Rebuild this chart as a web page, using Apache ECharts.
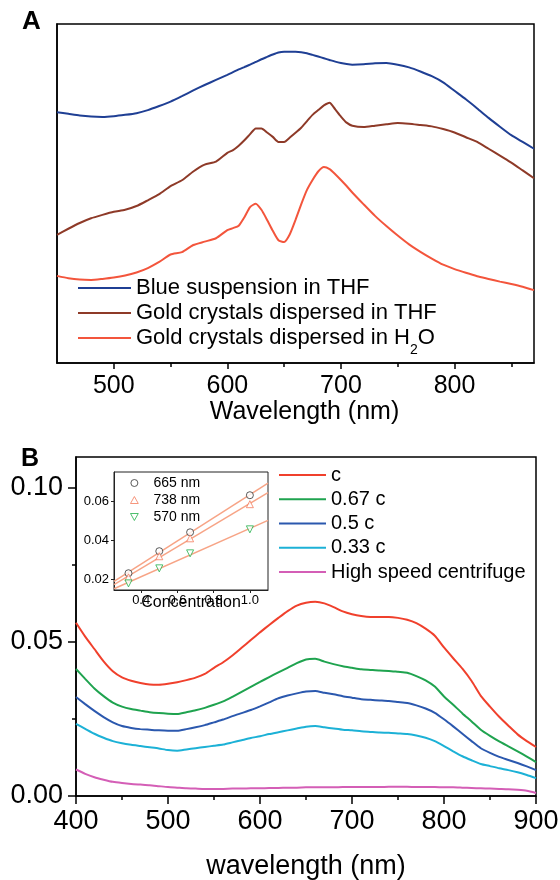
<!DOCTYPE html>
<html><head><meta charset="utf-8">
<script src="https://cdn.jsdelivr.net/npm/echarts@6/dist/echarts.min.js"></script>
<style>html,body{margin:0;padding:0;background:#fff}#c{width:560px;height:880px}</style>
</head><body><div id="c"></div>
<script>
// ---------- Panel A ----------
const wavelengthA = [450,460,470,480,490,500,510,520,530,540,550,560,570,580,590,600,605,610,615,620,625,630,635,640,645,650,655,660,665,670,675,680,685,690,695,700,705,710,720,730,740,750,760,770,780,790,800,810,820,830,840,850,860,870];
const blueSuspensionTHF = [.740,.735,.730,.727,.726,.728,.732,.737,.746,.758,.771,.787,.804,.820,.835,.850,.858,.866,.873,.880,.888,.896,.903,.910,.916,.918,.918,.918,.917,.914,.909,.904,.899,.894,.889,.885,.882,.880,.881,.884,.885,.880,.872,.860,.846,.828,.803,.778,.751,.723,.697,.672,.652,.632];
const goldTHF = [.378,.396,.413,.427,.437,.446,.452,.463,.480,.498,.522,.539,.565,.585,.594,.620,.628,.641,.657,.675,.692,.692,.680,.667,.652,.652,.665,.679,.694,.713,.732,.746,.760,.768,.748,.727,.709,.700,.696,.700,.704,.708,.706,.702,.698,.690,.680,.666,.652,.632,.612,.591,.568,.545];
const goldH2O = [.257,.250,.246,.245,.248,.252,.258,.267,.280,.298,.320,.327,.348,.358,.368,.392,.398,.405,.430,.460,.470,.452,.422,.390,.362,.357,.380,.422,.468,.510,.540,.565,.578,.572,.557,.540,.522,.503,.468,.434,.404,.376,.350,.328,.308,.290,.277,.266,.256,.248,.240,.233,.225,.215];
const namesA = ['Blue suspension in THF','Gold crystals dispersed in THF','Gold crystals dispersed in H2O'];
const ticksAX = [500,600,700,800];
const minorTicksAX = [550,650,750,850];

// ---------- Panel B ----------
const wavelengthB = [400,410,420,430,440,450,460,470,480,490,500,510,520,530,540,550,560,570,580,590,600,610,620,630,640,650,660,670,680,690,700,710,720,730,740,750,760,770,780,790,800,810,820,830,840,850,860,870,880,890,900];
const concC = [.0562,.0517,.0477,.0437,.0405,.0385,.0374,.0367,.0362,.0361,.0364,.0369,.0376,.0384,.0396,.0416,.0434,.0456,.0481,.0506,.0531,.0555,.0578,.0600,.0618,.0627,.0630,.0625,.0613,.0599,.0590,.0584,.0581,.0581,.0581,.0578,.0572,.0561,.0543,.0520,.0482,.0447,.0413,.0373,.0325,.0290,.0257,.0228,.0200,.0178,.0159];
const conc067 = [.0412,.0380,.0349,.0324,.0303,.0290,.0282,.0277,.0272,.0269,.0267,.0266,.0272,.0278,.0286,.0296,.0307,.0322,.0338,.0354,.0370,.0386,.0401,.0416,.0431,.0443,.0445,.0436,.0428,.0421,.0416,.0411,.0409,.0407,.0406,.0403,.0400,.0389,.0375,.0355,.0323,.0296,.0268,.0242,.0215,.0195,.0177,.0161,.0145,.0128,.0110];
const conc05 = [.0321,.0298,.0276,.0256,.0239,.0227,.0221,.0217,.0215,.0213,.0212,.0212,.0217,.0223,.0230,.0239,.0248,.0259,.0269,.0279,.0291,.0304,.0317,.0326,.0333,.0339,.0341,.0335,.0330,.0324,.0319,.0314,.0312,.0310,.0308,.0305,.0302,.0294,.0284,.0270,.0249,.0226,.0202,.0178,.0155,.0140,.0127,.0117,.0107,.0096,.0084];
const conc033 = [.0234,.0218,.0202,.0189,.0178,.0171,.0166,.0162,.0158,.0154,.0149,.0147,.0151,.0155,.0159,.0163,.0167,.0174,.0181,.0188,.0194,.0201,.0207,.0213,.0219,.0225,.0227,.0223,.0219,.0215,.0213,.0210,.0208,.0206,.0205,.0203,.0201,.0196,.0189,.0178,.0162,.0145,.0129,.0116,.0104,.0097,.0090,.0084,.0077,.0068,.0058];
const highSpeed = [.0086,.0072,.0061,.0053,.0046,.0042,.0039,.0037,.0035,.0032,.0029,.0027,.0025,.0024,.0023,.0023,.0023,.0024,.0024,.0025,.0025,.0026,.0026,.0027,.0027,.0028,.0028,.0028,.0028,.0029,.0029,.0029,.0029,.0029,.0030,.0030,.0030,.0029,.0029,.0029,.0028,.0028,.0027,.0026,.0025,.0024,.0023,.0022,.0020,.0017,.0010];
const namesB = ['c','0.67 c','0.5 c','0.33 c','High speed centrifuge'];
const ticksBX = [400,500,600,700,800,900];
const minorTicksBX = [450,550,650,750,850];
const ticksBY = [0,0.05,0.10];
const minorTicksBY = [0.025,0.075];

// ---------- Inset ----------
const concentration = [0.33,0.5,0.67,1.0];
const abs665 = [0.0231,0.0344,0.0441,0.0631];
const abs738 = [0.0210,0.0318,0.0410,0.0585];
const abs570 = [0.0179,0.0256,0.0333,0.0456];
const namesInset = ['665 nm','738 nm','570 nm'];
const insetTicksX = [0.4,0.6,0.8,1.0];
const insetTicksY = [0.02,0.04,0.06];

const FONT = 'Liberation Sans, Arial, Helvetica, sans-serif';
const BLACK = '#000';
const UP_TRI = 'path://M5,0L10,9L0,9Z';
const DOWN_TRI = 'path://M0,0L10,0L5,9Z';
const pairs = (xs, ys) => xs.map((x, i) => [x, ys[i]]);
function fitLine(xs, ys, x0, x1) {
  const n = xs.length;
  const mx = xs.reduce((a, b) => a + b, 0) / n;
  const my = ys.reduce((a, b) => a + b, 0) / n;
  let sxy = 0, sxx = 0;
  for (let i = 0; i < n; i++) { sxy += (xs[i] - mx) * (ys[i] - my); sxx += (xs[i] - mx) ** 2; }
  const b = sxy / sxx, a = my - b * mx;
  return [[x0, a + b * x0], [x1, a + b * x1]];
}

const colorsA = ['#1f3f94', '#8e3a28', '#f3553c'];
const colorsB = ['#f0402c', '#1fa34f', '#2b58ae', '#1cb1d6', '#d45eb6'];
const insetColors = ['#333333', '#f47c5c', '#22b04a'];
const fitColor = '#f7a486';

const axisLine = { show: true, lineStyle: { color: BLACK, width: 1.5 } };
const tickStyle = { color: BLACK, width: 1.5 };

const chart = echarts.init(document.getElementById('c'), null, { renderer: 'canvas' });

const option = {
  backgroundColor: '#fff',
  animation: false,
  textStyle: { fontFamily: FONT, color: BLACK },
  title: [
    { text: 'A', left: 22, top: 9, padding: 0, textStyle: { fontSize: 26, fontWeight: 'bold', color: BLACK, fontFamily: FONT } },
    { text: 'B', left: 21, top: 447, padding: 0, textStyle: { fontSize: 25, fontWeight: 'bold', color: BLACK, fontFamily: FONT } }
  ],
  grid: [
    { left: 57, top: 24, width: 477, height: 339, show: true, borderColor: BLACK, borderWidth: 1.5, backgroundColor: 'transparent', containLabel: false, outerBoundsMode: 'none' },
    { left: 76, top: 457, width: 460, height: 339, show: true, borderColor: BLACK, borderWidth: 1.5, backgroundColor: 'transparent', containLabel: false, outerBoundsMode: 'none' },
    { left: 114, top: 472, width: 154, height: 118, show: true, borderColor: '#222', borderWidth: 1, backgroundColor: '#fff', containLabel: false, outerBoundsMode: 'none' }
  ],
  xAxis: [
    { gridIndex: 0, type: 'value', min: 450, max: 870, position: 'bottom',
      axisLine: axisLine, splitLine: { show: false },
      axisTick: { show: true, inside: false, length: 6, customValues: ticksAX, lineStyle: tickStyle },
      axisLabel: { customValues: ticksAX, margin: 11, fontSize: 25, color: BLACK, fontFamily: FONT },
      name: 'Wavelength (nm)', nameLocation: 'middle', nameGap: 37,
      nameTextStyle: { fontSize: 25, color: BLACK, fontFamily: FONT, padding: [0, 0, 0, 18] } },
    { gridIndex: 0, type: 'value', min: 450, max: 870, position: 'bottom', offset: 0,
      axisLine: { show: false }, splitLine: { show: false }, axisLabel: { show: false },
      axisTick: { show: true, inside: false, length: 4, customValues: minorTicksAX, lineStyle: tickStyle } },
    { gridIndex: 1, type: 'value', min: 400, max: 900, position: 'bottom',
      axisLine: axisLine, splitLine: { show: false },
      axisTick: { show: true, inside: false, length: 8, customValues: ticksBX, lineStyle: tickStyle },
      axisLabel: { customValues: ticksBX, margin: 12, fontSize: 27, color: BLACK, fontFamily: FONT },
      name: 'wavelength (nm)', nameLocation: 'middle', nameGap: 57,
      nameTextStyle: { fontSize: 27, color: BLACK, fontFamily: FONT } },
    { gridIndex: 1, type: 'value', min: 400, max: 900, position: 'bottom', offset: 0,
      axisLine: { show: false }, splitLine: { show: false }, axisLabel: { show: false },
      axisTick: { show: true, inside: false, length: 4, customValues: minorTicksBX, lineStyle: tickStyle } },
    { gridIndex: 2, type: 'value', min: 0.25, max: 1.1, position: 'bottom',
      axisLine: { show: true, lineStyle: { color: '#222', width: 1 } }, splitLine: { show: false },
      axisTick: { show: true, inside: false, length: 3, customValues: insetTicksX, lineStyle: { color: '#222', width: 1 } },
      axisLabel: { customValues: insetTicksX, margin: 4, fontSize: 13, color: BLACK, fontFamily: FONT, formatter: v => v.toFixed(1) },
      name: 'Concentration', nameLocation: 'middle', nameGap: 5, nameMoveOverlap: false,
      nameTextStyle: { fontSize: 16, color: BLACK, fontFamily: FONT } }
  ],
  yAxis: [
    { gridIndex: 0, type: 'value', min: 0, max: 1, position: 'left',
      axisLine: axisLine, axisTick: { show: false }, axisLabel: { show: false }, splitLine: { show: false } },
    { gridIndex: 1, type: 'value', min: 0, max: 0.11, position: 'left',
      axisLine: axisLine, splitLine: { show: false },
      axisTick: { show: true, inside: false, length: 8, customValues: ticksBY, lineStyle: tickStyle },
      axisLabel: { customValues: ticksBY, margin: 13, fontSize: 27, color: BLACK, fontFamily: FONT, formatter: v => v.toFixed(2) } },
    { gridIndex: 1, type: 'value', min: 0, max: 0.11, position: 'left', offset: 0,
      axisLine: { show: false }, splitLine: { show: false }, axisLabel: { show: false },
      axisTick: { show: true, inside: false, length: 4, customValues: minorTicksBY, lineStyle: tickStyle } },
    { gridIndex: 2, type: 'value', min: 0.0145, max: 0.075, position: 'left',
      axisLine: { show: true, lineStyle: { color: '#222', width: 1 } }, splitLine: { show: false },
      axisTick: { show: true, inside: false, length: 3, customValues: insetTicksY, lineStyle: { color: '#222', width: 1 } },
      axisLabel: { customValues: insetTicksY, margin: 5, fontSize: 13, color: BLACK, fontFamily: FONT, formatter: v => v.toFixed(2) } }
  ],
  legend: [
    { data: [namesA[0], namesA[1]], orient: 'vertical', left: 78, top: 277, padding: 0,
      icon: 'rect', itemWidth: 53, itemHeight: 2, itemGap: 3,
      textStyle: { fontSize: 22, color: BLACK, fontFamily: FONT } },
    { data: [namesA[2]], orient: 'vertical', left: 78, top: 327, padding: 0,
      icon: 'rect', itemWidth: 53, itemHeight: 2,
      formatter: () => '{m|Gold crystals dispersed in H}{s|2}{m|O}',
      textStyle: { color: BLACK, fontFamily: FONT,
        rich: { m: { fontSize: 22, color: BLACK, fontFamily: FONT, padding: [8, 0, 8, 0] },
                s: { fontSize: 14, color: BLACK, fontFamily: FONT, padding: [24, 0, 0, 0] } } } },
    { data: namesB, orient: 'vertical', left: 279, top: 465, padding: 0,
      icon: 'rect', itemWidth: 47, itemHeight: 2, itemGap: 4.25,
      textStyle: { fontSize: 20, color: BLACK, fontFamily: FONT } },
    { data: [
        { name: namesInset[0], icon: 'circle', itemStyle: { color: '#fff', borderColor: insetColors[0], borderWidth: 1 } },
        { name: namesInset[1], icon: UP_TRI, itemStyle: { color: '#fff', borderColor: insetColors[1], borderWidth: 1 } },
        { name: namesInset[2], icon: DOWN_TRI, itemStyle: { color: '#fff', borderColor: insetColors[2], borderWidth: 1 } }
      ],
      orient: 'vertical', left: 130, top: 476, padding: 0,
      itemWidth: 28, itemHeight: 7, itemGap: 3,
      textStyle: { fontSize: 14, color: BLACK, fontFamily: FONT } }
  ],
  series: [
    { name: namesA[0], type: 'line', xAxisIndex: 0, yAxisIndex: 0, data: pairs(wavelengthA, blueSuspensionTHF), showSymbol: false, smooth: 0.2, color: colorsA[0], lineStyle: { width: 2 } },
    { name: namesA[1], type: 'line', xAxisIndex: 0, yAxisIndex: 0, data: pairs(wavelengthA, goldTHF), showSymbol: false, smooth: 0.2, color: colorsA[1], lineStyle: { width: 2 } },
    { name: namesA[2], type: 'line', xAxisIndex: 0, yAxisIndex: 0, data: pairs(wavelengthA, goldH2O), showSymbol: false, smooth: 0.2, color: colorsA[2], lineStyle: { width: 2 } },
    { name: namesB[0], type: 'line', xAxisIndex: 2, yAxisIndex: 1, data: pairs(wavelengthB, concC), showSymbol: false, smooth: 0.2, color: colorsB[0], lineStyle: { width: 2 } },
    { name: namesB[1], type: 'line', xAxisIndex: 2, yAxisIndex: 1, data: pairs(wavelengthB, conc067), showSymbol: false, smooth: 0.2, color: colorsB[1], lineStyle: { width: 2 } },
    { name: namesB[2], type: 'line', xAxisIndex: 2, yAxisIndex: 1, data: pairs(wavelengthB, conc05), showSymbol: false, smooth: 0.2, color: colorsB[2], lineStyle: { width: 2 } },
    { name: namesB[3], type: 'line', xAxisIndex: 2, yAxisIndex: 1, data: pairs(wavelengthB, conc033), showSymbol: false, smooth: 0.2, color: colorsB[3], lineStyle: { width: 2 } },
    { name: namesB[4], type: 'line', xAxisIndex: 2, yAxisIndex: 1, data: pairs(wavelengthB, highSpeed), showSymbol: false, smooth: 0.2, color: colorsB[4], lineStyle: { width: 2 } },
    { name: 'fit 665', type: 'line', xAxisIndex: 4, yAxisIndex: 3, data: fitLine(concentration, abs665, 0.25, 1.1), showSymbol: false, silent: true, color: fitColor, lineStyle: { width: 1.5 }, z: 3 },
    { name: 'fit 738', type: 'line', xAxisIndex: 4, yAxisIndex: 3, data: fitLine(concentration, abs738, 0.25, 1.1), showSymbol: false, silent: true, color: fitColor, lineStyle: { width: 1.5 }, z: 3 },
    { name: 'fit 570', type: 'line', xAxisIndex: 4, yAxisIndex: 3, data: fitLine(concentration, abs570, 0.25, 1.1), showSymbol: false, silent: true, color: fitColor, lineStyle: { width: 1.5 }, z: 3 },
    { name: namesInset[0], type: 'scatter', xAxisIndex: 4, yAxisIndex: 3, data: pairs(concentration, abs665), symbol: 'circle', symbolSize: 7, itemStyle: { color: '#fff', borderColor: insetColors[0], borderWidth: 1 }, z: 4 },
    { name: namesInset[1], type: 'scatter', xAxisIndex: 4, yAxisIndex: 3, data: pairs(concentration, abs738), symbol: UP_TRI, symbolSize: 7, itemStyle: { color: '#fff', borderColor: insetColors[1], borderWidth: 1 }, z: 4 },
    { name: namesInset[2], type: 'scatter', xAxisIndex: 4, yAxisIndex: 3, data: pairs(concentration, abs570), symbol: DOWN_TRI, symbolSize: 7, itemStyle: { color: '#fff', borderColor: insetColors[2], borderWidth: 1 }, z: 4 }
  ]
};
chart.setOption(option);
</script>
</body></html>
